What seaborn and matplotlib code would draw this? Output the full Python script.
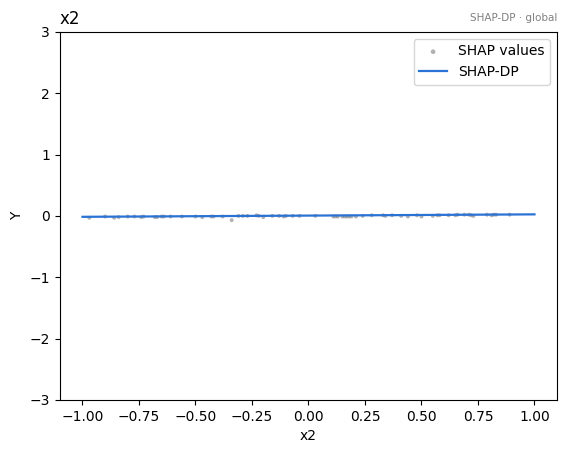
import numpy as np
import pandas as pd
import matplotlib
matplotlib.use("Agg")
import matplotlib.pyplot as plt
import seaborn as sns

# SHAP values for feature x2
shap_x = [-0.97, -0.90, -0.86, -0.84, -0.80, -0.77, -0.74, -0.73, -0.68, -0.67,
          -0.65, -0.64, -0.61, -0.56, -0.50, -0.47, -0.43, -0.42, -0.38, -0.34,
          -0.31, -0.29, -0.27, -0.23, -0.22, -0.20, -0.16, -0.13, -0.11, -0.10,
          -0.07, -0.04, 0.03, 0.11, 0.12, 0.13, 0.15, 0.16, 0.17, 0.18,
          0.19, 0.21, 0.24, 0.28, 0.33, 0.34, 0.37, 0.41, 0.44, 0.48,
          0.50, 0.55, 0.57, 0.58, 0.62, 0.65, 0.66, 0.69, 0.71, 0.72,
          0.73, 0.79, 0.81, 0.82, 0.83, 0.89]
shap_y = [-0.03, -0.01, -0.03, -0.02, -0.01, -0.01, -0.02, -0.01, -0.02, -0.02,
          -0.01, -0.01, -0.01, -0.01, -0.01, -0.02, -0.01, -0.01, -0.01, -0.07,
          0.00, 0.00, 0.00, 0.01, 0.00, -0.02, 0.00, 0.00, -0.01, 0.00,
          0.00, 0.00, 0.00, -0.01, -0.01, -0.01, -0.01, -0.01, -0.01, -0.01,
          -0.01, -0.01, 0.00, 0.01, 0.01, 0.00, 0.01, 0.00, -0.01, 0.01,
          -0.01, 0.00, 0.01, 0.01, 0.01, 0.01, 0.02, 0.02, 0.02, 0.01,
          0.00, 0.02, 0.01, 0.02, 0.02, 0.02]

# SHAP-DP curve
dp_x = [-1.0, -0.5, 0.0, 0.5, 1.0]
dp_y = [-0.015, -0.005, 0.005, 0.015, 0.025]

fig, ax = plt.subplots(figsize=(5.65, 4.55), dpi=100)
fig.subplots_adjust(left=0.106, right=0.986, top=0.93, bottom=0.121)

sns.scatterplot(x=shap_x, y=shap_y, ax=ax, color="grey", s=8, alpha=0.6,
                edgecolor="none", label="SHAP values")
sns.lineplot(x=dp_x, y=dp_y, ax=ax, color="#2a72d4", linewidth=1.6, label="SHAP-DP")

ax.set_xlim(-1.1, 1.1)
ax.set_ylim(-3, 3)
ax.set_xlabel("x2")
ax.set_ylabel("Y")
ax.set_title("x2", loc="left", fontsize=12)
ax.text(1.0, 1.025, "SHAP-DP · global", transform=ax.transAxes, ha="right",
        va="bottom", fontsize=7.5, color="grey")
ax.legend(loc="upper right", markerscale=1.2)

plt.savefig("out.png", dpi=100)
